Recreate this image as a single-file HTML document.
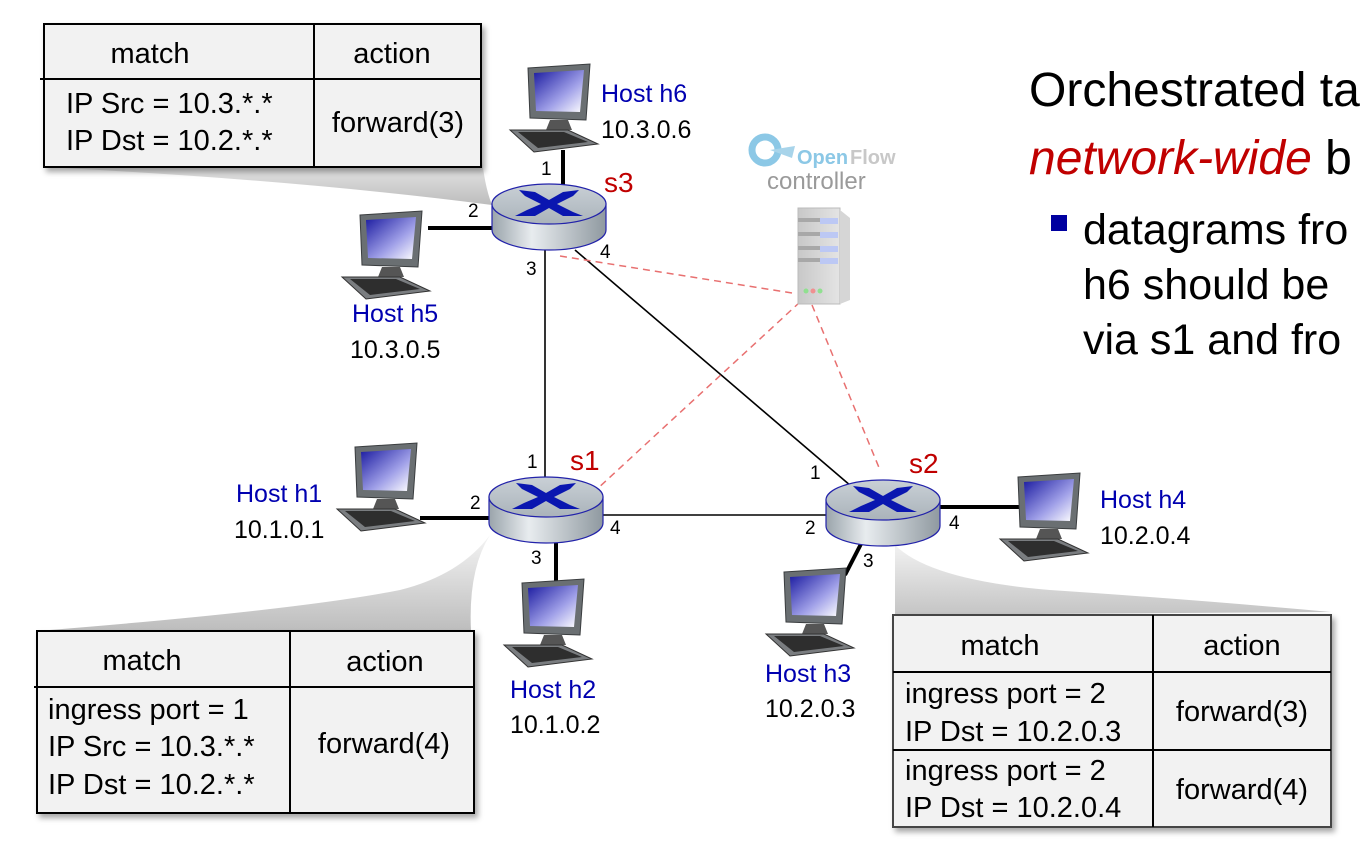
<!DOCTYPE html>
<html><head><meta charset="utf-8"><style>
html,body{margin:0;padding:0;background:#fff;}
body{width:1365px;height:844px;overflow:hidden;position:relative;font-family:"Liberation Sans",sans-serif;}
svg{position:absolute;left:0;top:0;}
</style></head><body>
<svg width="1365" height="844" viewBox="0 0 1365 844" font-family="Liberation Sans, sans-serif">
<defs>
<linearGradient id="cg1" x1="0" y1="1" x2="0" y2="0"><stop offset="0" stop-color="#bdbdbd"/><stop offset="1" stop-color="#f4f4f4"/></linearGradient>
<linearGradient id="cg2" x1="0" y1="0" x2="0" y2="1"><stop offset="0" stop-color="#f2f2f2"/><stop offset="1" stop-color="#c4c4c4"/></linearGradient>
<linearGradient id="rside" x1="0" y1="0" x2="1" y2="0"><stop offset="0" stop-color="#9aa4ab"/><stop offset="0.35" stop-color="#e8ecef"/><stop offset="1" stop-color="#8f99a0"/></linearGradient>
<linearGradient id="rtop" x1="0" y1="0" x2="0" y2="1"><stop offset="0" stop-color="#c9d0d6"/><stop offset="1" stop-color="#aab3ba"/></linearGradient>
<linearGradient id="scr" x1="0" y1="0" x2="1" y2="1"><stop offset="0" stop-color="#1a1aa0"/><stop offset="0.6" stop-color="#a0a0e8"/><stop offset="1" stop-color="#ffffff"/></linearGradient>
<linearGradient id="srv" x1="0" y1="0" x2="1" y2="0"><stop offset="0" stop-color="#c8c8c8"/><stop offset="1" stop-color="#e4e4e4"/></linearGradient>
<filter id="sh" x="-5%" y="-5%" width="115%" height="120%"><feDropShadow dx="3" dy="4" stdDeviation="3" flood-color="#000" flood-opacity="0.35"/></filter>
<g id="router">
<path d="M-57,-8 L-57,18 A57,20 0 0 0 57,18 L57,-8 Z" fill="url(#rside)" stroke="#2222aa" stroke-width="1.2"/>
<ellipse cx="0" cy="-8" rx="57" ry="20" fill="url(#rtop)" stroke="#2222aa" stroke-width="1.2"/>
<path d="M-30,-22 L-14,-20 L0,-12 L14,-20 L30,-22 L24,-16 L8,-8 L24,0 L34,4 L14,4 L0,-4 L-14,4 L-34,4 L-22,-2 L-8,-8 L-24,-16 Z" fill="#0a16b0"/>
</g>
<g id="host">
<path d="M18,0 L80,-4 L76,52 L20,50 Z" fill="#6a6f72" stroke="#3a3d3f"/>
<path d="M24,5 L74,2 L70,44 L26,43 Z" fill="url(#scr)"/>
<path d="M40,52 L58,52 L62,62 L36,62 Z" fill="#555"/>
<path d="M0,62 L58,62 L88,76 L24,84 Z" fill="#7a7d80" stroke="#333"/>
<path d="M8,64 L54,64 L78,74 L28,80 Z" fill="#2e2e2e"/>
</g>
</defs>

<path d="M44,167 L481,167 L481,150 Q484,185 492,205 Q300,180 44,167 Z" fill="url(#cg1)"/>
<path d="M37,631 Q300,610 400,590 Q460,575 490,535 Q468,570 471,631 Z" fill="url(#cg1)"/>
<path d="M895,615 L895,545 Q930,580 1050,590 Q1200,600 1331,612 Z" fill="url(#cg2)"/>

<g stroke="#000">
<line x1="545" y1="250" x2="545" y2="480" stroke-width="1.6"/>
<line x1="575" y1="250" x2="858" y2="492" stroke-width="1.6"/>
<line x1="600" y1="515" x2="828" y2="515" stroke-width="1.6"/>
<line x1="563" y1="150" x2="563" y2="190" stroke-width="4"/>
<line x1="428" y1="228" x2="494" y2="228" stroke-width="4"/>
<line x1="420" y1="518" x2="492" y2="518" stroke-width="4"/>
<line x1="556" y1="540" x2="556" y2="585" stroke-width="4"/>
<line x1="940" y1="507" x2="1025" y2="507" stroke-width="4"/>
<line x1="862" y1="542" x2="845" y2="575" stroke-width="4"/>
</g>
<g stroke="#e87070" stroke-width="1.5" stroke-dasharray="7,5" fill="none">
<line x1="560" y1="256" x2="792" y2="293"/>
<line x1="800" y1="302" x2="596" y2="490"/>
<line x1="812" y1="305" x2="880" y2="470"/>
</g>

<use href="#router" x="549" y="212"/>
<use href="#router" x="546" y="505"/>
<use href="#router" x="883" y="508"/>

<use href="#host" x="510" y="68"/>
<use href="#host" x="342" y="215"/>
<use href="#host" x="337" y="447"/>
<use href="#host" x="504" y="583"/>
<use href="#host" x="766" y="572"/>
<use href="#host" x="1000" y="477"/>

<g>
<circle cx="765" cy="150" r="13" fill="none" stroke="#8cc8e6" stroke-width="7"/>
<path d="M770,150 L795,146 L792,158 Z" fill="#a8d4ea"/>
<text x="797" y="164" font-size="20" font-weight="bold" fill="#8cc8e6">Open</text>
<text x="850" y="164" font-size="20" font-weight="bold" fill="#c8c8c8">Flow</text>
<text x="767" y="189" font-size="24" fill="#9a9a9a">controller</text>
<rect x="798" y="208" width="42" height="96" fill="url(#srv)" stroke="#bbb"/>
<path d="M840,210 L850,218 L850,300 L840,304 Z" fill="#d6d6d6"/>
<g fill="#bcc8f4"><rect x="820" y="218" width="18" height="6"/><rect x="820" y="232" width="18" height="6"/><rect x="820" y="246" width="18" height="6"/><rect x="820" y="258" width="18" height="6"/></g>
<g fill="#a8a8a8"><rect x="798" y="218" width="22" height="4"/><rect x="798" y="232" width="22" height="4"/><rect x="798" y="246" width="22" height="4"/><rect x="798" y="258" width="22" height="4"/></g>
<circle cx="806" cy="291" r="2.5" fill="#90e090"/><circle cx="813" cy="291" r="2.5" fill="#f09090"/><circle cx="820" cy="291" r="2.5" fill="#90e090"/>
</g>

<g font-size="19" fill="#000">
<text x="541" y="175">1</text><text x="468" y="217">2</text><text x="526" y="275">3</text><text x="600" y="258">4</text>
<text x="527" y="468">1</text><text x="470" y="509">2</text><text x="531" y="564">3</text><text x="610" y="534">4</text>
<text x="810" y="479">1</text><text x="805" y="534">2</text><text x="863" y="567">3</text><text x="949" y="529">4</text>
</g>
<g font-size="28" fill="#c00000">
<text x="604" y="192">s3</text><text x="570" y="470">s1</text><text x="909" y="473">s2</text>
</g>
<g font-size="25">
<text x="601" y="102" fill="#0000b0">Host h6</text><text x="601" y="138">10.3.0.6</text>
<text x="352" y="322" fill="#0000b0">Host h5</text><text x="350" y="358">10.3.0.5</text>
<text x="236" y="502" fill="#0000b0">Host h1</text><text x="234" y="538">10.1.0.1</text>
<text x="510" y="698" fill="#0000b0">Host h2</text><text x="510" y="733">10.1.0.2</text>
<text x="765" y="682" fill="#0000b0">Host h3</text><text x="765" y="717">10.2.0.3</text>
<text x="1100" y="508" fill="#0000b0">Host h4</text><text x="1100" y="544">10.2.0.4</text>
</g>

<g font-size="29" fill="#000">
<g>
<rect x="44" y="24" width="437" height="143" fill="#f2f2f2" stroke="#000" stroke-width="2" filter="url(#sh)"/>
<line x1="40" y1="79" x2="481" y2="79" stroke="#000" stroke-width="2"/>
<line x1="314" y1="24" x2="314" y2="167" stroke="#000" stroke-width="2"/>
<text x="150" y="63" text-anchor="middle">match</text><text x="392" y="63" text-anchor="middle">action</text>
<text x="66" y="113">IP Src = 10.3.*.*</text><text x="66" y="150">IP Dst = 10.2.*.*</text>
<text x="398" y="132" text-anchor="middle">forward(3)</text>
</g>
<g>
<rect x="37" y="631" width="437" height="182" fill="#f2f2f2" stroke="#000" stroke-width="2" filter="url(#sh)"/>
<line x1="34" y1="687" x2="474" y2="687" stroke="#000" stroke-width="2"/>
<line x1="290" y1="631" x2="290" y2="813" stroke="#000" stroke-width="2"/>
<text x="142" y="670" text-anchor="middle">match</text><text x="385" y="671" text-anchor="middle">action</text>
<text x="48" y="719">ingress port = 1</text><text x="48" y="756">IP Src = 10.3.*.*</text><text x="48" y="794">IP Dst = 10.2.*.*</text>
<text x="384" y="753" text-anchor="middle">forward(4)</text>
</g>
<g>
<rect x="893" y="615" width="438" height="212" fill="#f2f2f2" stroke="#444" stroke-width="2" filter="url(#sh)"/>
<line x1="893" y1="672" x2="1331" y2="672" stroke="#000" stroke-width="2"/>
<line x1="893" y1="750" x2="1331" y2="750" stroke="#000" stroke-width="2"/>
<line x1="1153" y1="615" x2="1153" y2="827" stroke="#000" stroke-width="2"/>
<text x="1000" y="655" text-anchor="middle">match</text><text x="1242" y="655" text-anchor="middle">action</text>
<text x="905" y="703">ingress port = 2</text><text x="905" y="741">IP Dst = 10.2.0.3</text>
<text x="905" y="780">ingress port = 2</text><text x="905" y="817">IP Dst = 10.2.0.4</text>
<text x="1242" y="721" text-anchor="middle">forward(3)</text><text x="1242" y="799" text-anchor="middle">forward(4)</text>
</g>
</g>

<g font-size="48" fill="#000">
<text x="1029" y="106">Orchestrated ta</text>
<text x="1029" y="174"><tspan fill="#c00000" font-style="italic">network-wide</tspan> b</text>
</g>
<rect x="1051" y="215" width="16" height="16" fill="#0000a0"/>
<g font-size="43" fill="#000">
<text x="1083" y="244">datagrams fro</text>
<text x="1083" y="299">h6 should be</text>
<text x="1083" y="354">via s1 and fro</text>
</g>
</svg>
</body></html>
